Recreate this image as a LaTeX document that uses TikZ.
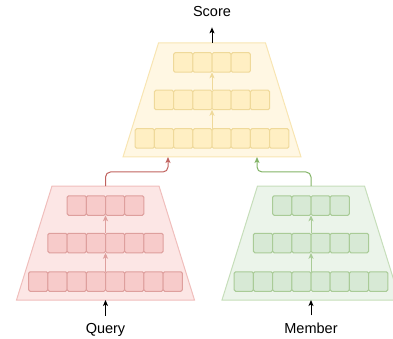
\documentclass[tikz,border=0pt]{standalone}
\usepackage{fontspec}
\setmainfont{Liberation Sans}
\usetikzlibrary{arrows.meta}
\definecolor{redtrap}{HTML}{FCE6E5}
\definecolor{redtrapline}{HTML}{F0BEBC}
\definecolor{redcell}{HTML}{F7CBCA}
\definecolor{redcellline}{HTML}{DE9F9D}
\definecolor{redconn}{HTML}{C0625E}
\definecolor{yeltrap}{HTML}{FFF7E3}
\definecolor{yeltrapline}{HTML}{F8E5B2}
\definecolor{yelcell}{HTML}{FFEFC3}
\definecolor{yelcellline}{HTML}{EFD99A}
\definecolor{yelconn}{HTML}{D6B656}
\definecolor{grntrap}{HTML}{EBF4EA}
\definecolor{grntrapline}{HTML}{C6DEBA}
\definecolor{grncell}{HTML}{D7E9D5}
\definecolor{grncellline}{HTML}{A9CB97}
\definecolor{grnconn}{HTML}{82B366}
\tikzset{
  tip/.style={-{Stealth[length=6pt,width=5pt,inset=1.5pt]}},
  cellbox/.style={draw=#1cellline, fill=#1cell, line width=1pt, rounded corners=1.5pt,
    minimum width=19.2pt, minimum height=19.5pt, inner sep=0pt, outer sep=0pt},
  trapbox/.style={draw=#1trapline, fill=#1trap, line width=1pt},
  innerarrow/.style={draw=#1cellline, line width=1pt, tip},
  conn/.style={draw=#1conn, line width=1pt, rounded corners=5pt, tip},
  blackarrow/.style={draw=black, line width=1pt, tip},
  label/.style={font=\fontsize{14.5pt}{17pt}\selectfont, inner sep=1pt, anchor=base}
}
% #1 prefix, #2 center x, #3 top y, #4 colour prefix
\newcommand\encblock[4]{%
  \path[trapbox=#4] (#2-53.5,#3) -- (#2+53.5,#3) -- (#2+89,#3+114) -- (#2-89,#3+114) -- cycle;
  \coordinate (#1-top) at (#2,#3);
  \coordinate (#1-bot) at (#2,#3+114);
  \foreach \n/\dy [count=\r] in {4/19.5,6/57,8/95.5} {
    \foreach \i in {1,...,\n} {
      \node[cellbox=#4] (#1-\r-\i) at ({#2+(\i-(\n+1)/2)*19.2}, #3+\dy) {};
    }
  }
  \draw[innerarrow=#4] (#1-3-4.north east) -- (#1-2-3.south east);
  \draw[innerarrow=#4] (#1-2-3.north east) -- (#1-1-2.south east);
}
\begin{document}
\begin{tikzpicture}[x=1pt,y=-1pt]
\useasboundingbox (0,0) rectangle (393,339);
\encblock{s}{212}{43}{yel}
\encblock{q}{105.5}{186}{red}
\encblock{m}{311}{186}{grn}
\coordinate (s-inq) at (168,157);
\coordinate (s-inm) at (257,157);
\node[label] (score) at (212,17) {Score};
\node[label] (query) at (105.5,333) {Query};
\node[label] (member) at (311,333) {Member};
\draw[blackarrow, shorten >=9pt] (s-top) -- (score.south);
\draw[blackarrow, shorten <=6pt] (query.north) -- (q-bot);
\draw[blackarrow, shorten <=6pt] (member.north) -- (m-bot);
\draw[conn=red] (q-top) -- ++(0,-14) -| (s-inq);
\draw[conn=grn] (m-top) -- ++(0,-14) -| (s-inm);
\end{tikzpicture}
\end{document}
